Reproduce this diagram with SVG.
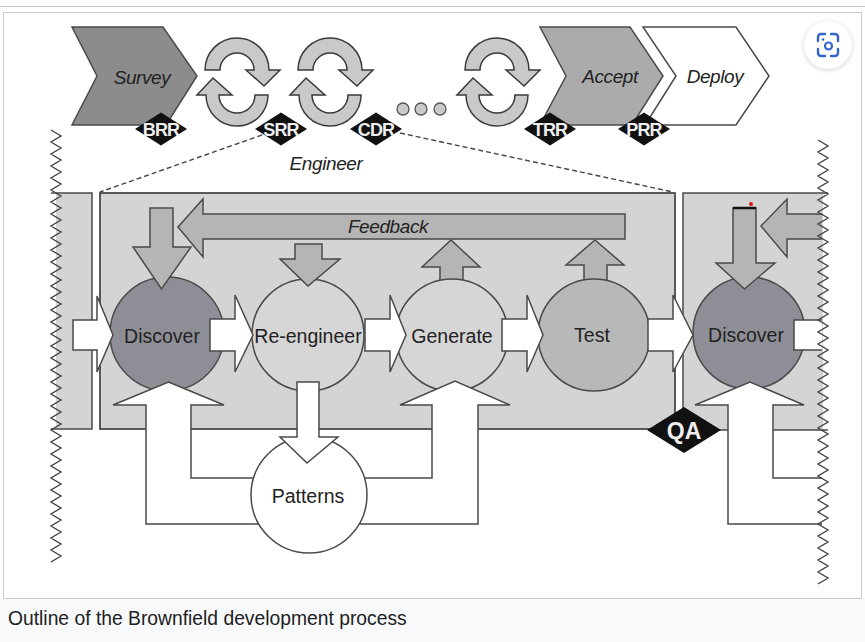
<svg xmlns="http://www.w3.org/2000/svg" xmlns:xlink="http://www.w3.org/1999/xlink" width="865" height="642" viewBox="0 0 865 642">
<style>
.ln{stroke:#4a4a4a;stroke-width:1.5;stroke-linejoin:miter}
.box{fill:#d4d4d4;stroke:#4a4a4a;stroke-width:1.8}
.gray{fill:#b5b5b5;stroke:#4a4a4a;stroke-width:1.5}
.white{fill:#ffffff;stroke:#4a4a4a;stroke-width:1.5}
.cyc{fill:#c9c9c9;stroke:#3a3a3a;stroke-width:1.5}
.dia{fill:#111111}
.dt{font-family:"Liberation Sans",Arial,sans-serif;font-weight:bold;fill:#eeeeee;text-anchor:middle}
.lbl{font-family:"Liberation Sans",Arial,sans-serif;font-size:19.5px;fill:#222222;text-anchor:middle}
.it{font-family:"Liberation Sans",Arial,sans-serif;font-style:italic;font-size:19px;fill:#222222;text-anchor:middle;letter-spacing:-0.4px}
.zz{fill:none;stroke:#444444;stroke-width:1.4}
.dash{fill:none;stroke:#444444;stroke-width:1.4;stroke-dasharray:5 3}
</style>
<defs>
<g id="cyc" class="cyc">
<path d="M-32,70 A32,32 0 0 1 32,70 L43,70 L27,86 L9,70 L17,70 A17,17 0 0 0 -17,70 Z"/>
<path d="M31,95 A31,31 0 0 1 -31,95 L-40,95 L-24,78 L-5,95 L-18,95 A18,18 0 0 0 18,95 Z"/>
</g>
<filter id="sh" x="-50%" y="-50%" width="200%" height="200%">
<feGaussianBlur stdDeviation="2.5"/>
</filter>
</defs>

<!-- page frame -->
<rect x="0" y="0" width="865" height="642" fill="#ffffff"/>
<rect x="0" y="598" width="865" height="44" fill="#f8f9fa"/>
<line x1="0" y1="6.5" x2="865" y2="6.5" stroke="#c8ccd1" stroke-width="1"/>
<rect x="3.5" y="12.5" width="858" height="586" fill="#ffffff" stroke="#c8ccd1" stroke-width="1"/>

<!-- phase boxes -->
<g id="left-box">
<rect x="56" y="193" width="36" height="236" fill="#d4d4d4"/>
<polyline points="51,193 92,193 92,429 51,429" class="ln" fill="none"/>
</g>
<g id="engineer-box">
<rect x="100" y="193" width="575" height="236" class="box"/>
</g>
<g id="right-box">
<rect x="683" y="193" width="140" height="237" fill="#d4d4d4"/>
<polyline points="828,193 683,193 683,430 828,430" class="ln" fill="none"/>
</g>

<!-- top process band -->
<g id="survey">
<path d="M72,27 L163,27 L197,76 L166,125 L72,125 L97,76 Z" fill="#8c8c8c" class="ln"/>
<text x="142" y="84" class="it">Survey</text>
</g>
<g id="cycles">
<use xlink:href="#cyc" href="#cyc" x="237" y="0"/>
<use xlink:href="#cyc" href="#cyc" x="330" y="0"/>
<use xlink:href="#cyc" href="#cyc" x="497" y="0"/>
</g>
<g id="dots" fill="#c9c9c9" stroke="#555555" stroke-width="1.3">
<circle cx="403" cy="109" r="6"/>
<circle cx="421" cy="109" r="6"/>
<circle cx="440" cy="109" r="6"/>
</g>
<g id="accept">
<path d="M540,27 L630,27 L663,76 L632,125 L540,125 L566,76 Z" fill="#ababab" class="ln"/>
<text x="610" y="83" class="it">Accept</text>
</g>
<g id="deploy">
<path d="M643,27 L736,27 L769,76 L736,125 L645,125 L676,76 Z" fill="#ffffff" class="ln"/>
<text x="715" y="83" class="it">Deploy</text>
</g>

<g id="connectors">
<line x1="262" y1="135" x2="100" y2="192" class="dash"/>
<line x1="400" y1="133" x2="673" y2="192" class="dash"/>
</g>

<g id="milestones">
<g id="brr"><polygon points="135,129 161,112.5 187,129 161,145.5" class="dia"/><text x="161" y="136" class="dt" font-size="18" letter-spacing="-0.9">BRR</text></g>
<g id="srr"><polygon points="255,129 281,112.5 307,129 281,145.5" class="dia"/><text x="281" y="136" class="dt" font-size="18" letter-spacing="-0.9">SRR</text></g>
<g id="cdr"><polygon points="350,129 376,112.5 402,129 376,145.5" class="dia"/><text x="376" y="136" class="dt" font-size="18" letter-spacing="-0.9">CDR</text></g>
<g id="trr"><polygon points="524,129 550,112.5 576,129 550,145.5" class="dia"/><text x="550" y="136" class="dt" font-size="18" letter-spacing="-0.9">TRR</text></g>
<g id="prr"><polygon points="618,129 644,112.5 670,129 644,145.5" class="dia"/><text x="644" y="136" class="dt" font-size="18" letter-spacing="-0.9">PRR</text></g>
</g>
<text x="326" y="170" class="it">Engineer</text>

<!-- feedback arrows -->
<g id="feedback">
<polygon points="178,227 203,199 203,214 625,214 625,239 203,239 203,257" class="gray"/>
<text x="388" y="233" class="it">Feedback</text>
</g>
<g id="feedback-next">
<polygon points="822,214 787,214 787,199 761,226 787,257 787,239 822,239" fill="#b5b5b5"/>
<polyline points="822,214 787,214 787,199 761,226 787,257 787,239 822,239" class="ln" fill="none"/>
</g>

<!-- up arrows into feedback -->
<polygon points="451,240 480,267 463,267 463,284 440,284 440,267 422,267" class="gray"/>
<polygon points="595,240 624,265 607,265 607,284 584,284 584,265 566,265" class="gray"/>

<!-- activity circles -->
<g id="discover1"><circle cx="167" cy="334" r="57" fill="#8e8f96" class="ln"/></g>
<g id="reengineer"><circle cx="308" cy="335" r="56" fill="#d6d6d6" class="ln"/></g>
<g id="generate"><circle cx="452" cy="335" r="56" fill="#d6d6d6" class="ln"/></g>
<g id="test"><circle cx="594" cy="335" r="56" fill="#b8b8b8" class="ln"/></g>
<g id="discover2"><circle cx="749" cy="333" r="56" fill="#8e8f96" class="ln"/></g>

<!-- down arrows -->
<polygon points="150,208 173,208 173,247 191,247 161.5,289 133,247 150,247" class="gray"/>
<polygon points="295,244 322,244 322,259 340,259 308,286 280,259 295,259" class="gray"/>
<polygon points="733,208 756,208 756,263 775,263 744.5,289 716,263 733,263" class="gray"/>
<line x1="733" y1="208" x2="756" y2="208" stroke="#111" stroke-width="2.5"/>
<circle cx="751" cy="204" r="2" fill="#e01010"/>

<!-- white flow arrows -->
<g id="flow">
<polygon points="73,320 97,320 97,296 113,335 97,372 97,350 73,350" class="white"/>
<polygon points="210,319 235,319 235,295 253,335 235,372 235,351 210,351" class="white"/>
<polygon points="365,319 390,319 390,295 406,335 390,372 390,351 365,351" class="white"/>
<polygon points="502,319 527,319 527,295 543,335 527,372 527,351 502,351" class="white"/>
<polygon points="648,319 673,319 673,295 693,335 673,372 673,351 648,351" class="white"/>
<rect x="794" y="320" width="28" height="30" fill="#ffffff"/>
<polyline points="822,320 794,320 794,350 822,350" class="ln" fill="none"/>
</g>

<!-- pattern pipes -->
<g id="pipes">
<polygon points="168.5,382 224,405 191,405 191,478 432,478 432,405 400,405 455,381 510,405 478,405 478,524 146,524 146,405 113,405" class="white"/>
<polygon points="750,382 804,405 773,405 773,478 822,478 822,524 728,524 728,405 695,405" fill="#ffffff"/>
<polyline points="822,478 773,478 773,405 804,405 750,382 695,405 728,405 728,524 822,524" class="ln" fill="none"/>
</g>

<g id="patterns">
<circle cx="309" cy="495" r="58" class="white"/>
<text x="308" y="503" class="lbl" font-size="19">Patterns</text>
</g>
<polygon points="297,382 319,382 319,437 338,437 307,463 280,437 297,437" class="white"/>

<!-- torn edges -->
<path class="zz" d="M51,130 l10,6 -10,6 10,6 -10,6 10,6 -10,6 10,6 -10,6 10,6 -10,6 10,6 -10,6
 10,6 -10,6 10,6 -10,6 10,6 -10,6 10,6 -10,6 10,6 -10,6 10,6 -10,6
 10,6 -10,6 10,6 -10,6 10,6 -10,6 10,6 -10,6 10,6 -10,6 10,6 -10,6
 10,6 -10,6 10,6 -10,6 10,6 -10,6 10,6 -10,6 10,6 -10,6 10,6 -10,6
 10,6 -10,6 10,6 -10,6 10,6 -10,6 10,6 -10,6 10,6 -10,6 10,6 -10,6
 10,6 -10,6 10,6 -10,6 10,6 -10,6 10,6 -10,6 10,6 -10,6 10,6 -10,6"/>
<path class="zz" d="M818,140 l10,6 -10,6 10,6 -10,6 10,6 -10,6 10,6 -10,6 10,6 -10,6 10,6 -10,6
 10,6 -10,6 10,6 -10,6 10,6 -10,6 10,6 -10,6 10,6 -10,6 10,6 -10,6
 10,6 -10,6 10,6 -10,6 10,6 -10,6 10,6 -10,6 10,6 -10,6 10,6 -10,6
 10,6 -10,6 10,6 -10,6 10,6 -10,6 10,6 -10,6 10,6 -10,6 10,6 -10,6
 10,6 -10,6 10,6 -10,6 10,6 -10,6 10,6 -10,6 10,6 -10,6 10,6 -10,6
 10,6 -10,6 10,6 -10,6 10,6 -10,6 10,6 -10,6 10,6 -10,6 10,6 -10,6
 10,6 -10,6"/>

<g id="qa"><polygon points="647,430 684,407 721,430 684,453" class="dia"/><text x="684" y="438.5" class="dt" font-size="23">QA</text></g>

<!-- circle labels -->
<text x="162" y="343" class="lbl">Discover</text>
<text x="308" y="343" class="lbl">Re-engineer</text>
<text x="452" y="343" class="lbl">Generate</text>
<text x="592" y="342" class="lbl">Test</text>
<text x="746" y="342" class="lbl">Discover</text>

<!-- zoom button -->
<g id="zoom-button">
<circle cx="828" cy="46" r="24" fill="#000" opacity="0.18" filter="url(#sh)"/>
<circle cx="828" cy="45" r="24" fill="#ffffff"/>
<path d="M818,41 v-4 a3,3 0 0 1 3,-3 h4 M831,34 h4 a3,3 0 0 1 3,3 v4 M838,49 v4 a3,3 0 0 1 -3,3 h-4 M825,56 h-4 a3,3 0 0 1 -3,-3 v-4" fill="none" stroke="#3366cc" stroke-width="2.4" stroke-linecap="round"/>
<circle cx="828.5" cy="46" r="3.5" fill="none" stroke="#3366cc" stroke-width="2.2"/>
<circle cx="823" cy="39.5" r="1.3" fill="#3366cc"/>
</g>

<text x="8" y="625" font-family="'Liberation Sans',Arial,sans-serif" font-size="19.3" fill="#202122">Outline of the Brownfield development process</text>
</svg>
